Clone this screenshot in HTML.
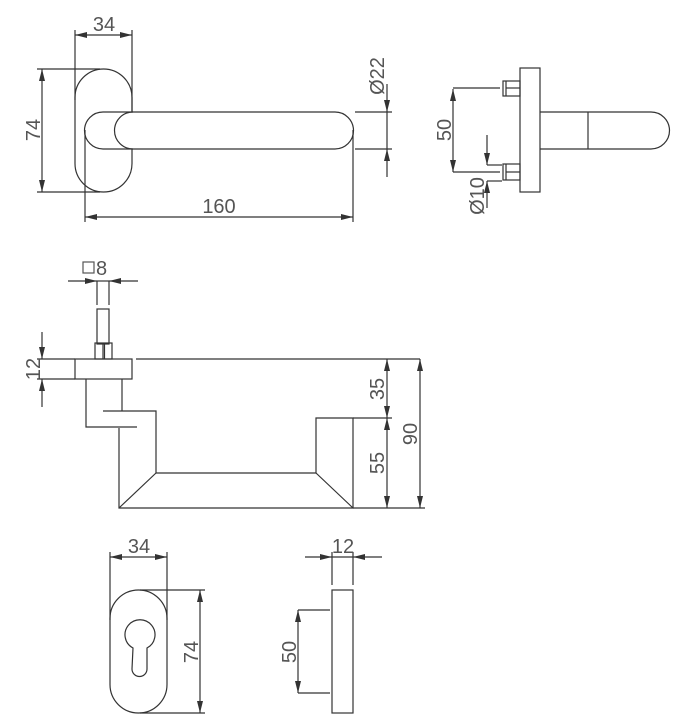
<!DOCTYPE html>
<html><head><meta charset="utf-8"><style>
html,body{margin:0;padding:0;background:#fff;}
svg{display:block}
text{font-family:"Liberation Sans",sans-serif;font-size:20px;fill:#555;}
</style></head><body>
<svg width="679" height="719" viewBox="0 0 679 719" xmlns="http://www.w3.org/2000/svg">
<defs>
<marker id="a" markerUnits="userSpaceOnUse" markerWidth="13" markerHeight="7" refX="12" refY="3.5" orient="auto-start-reverse">
<path d="M0,0.5 L12,3.5 L0,6.5 z" fill="#333"/></marker>
</defs>
<g fill="none" stroke="#333" stroke-width="1.2">
<!-- TOP VIEW -->
<rect x="75" y="69" width="57" height="123" rx="28.5" ry="28.5"/>
<path d="M103,112 L335,112 A18.5,18.5 0 0 1 335,149 L103,149 A18.5,18.5 0 0 1 103,112" fill="#fff"/>
<path d="M133,112 A18.5,18.5 0 0 0 133,149"/>
<line x1="85" y1="130" x2="85" y2="222"/>
<line x1="353" y1="130" x2="353" y2="222"/>
<line x1="75" y1="30" x2="75" y2="100"/>
<line x1="132" y1="30" x2="132" y2="112"/>
<line x1="75" y1="35" x2="132" y2="35" marker-start="url(#a)" marker-end="url(#a)"/>
<line x1="37" y1="69" x2="100" y2="69"/>
<line x1="37" y1="192" x2="100" y2="192"/>
<line x1="42" y1="69" x2="42" y2="192" marker-start="url(#a)" marker-end="url(#a)"/>
<line x1="85" y1="217" x2="353" y2="217" marker-start="url(#a)" marker-end="url(#a)"/>
<line x1="355" y1="112" x2="392" y2="112"/>
<line x1="355" y1="149" x2="392" y2="149"/>
<line x1="387" y1="84" x2="387" y2="112" marker-end="url(#a)"/>
<line x1="387" y1="177" x2="387" y2="149" marker-end="url(#a)"/>
<line x1="387" y1="112" x2="387" y2="149"/>
<!-- SIDE VIEW -->
<rect x="520" y="68" width="20" height="124"/>
<rect x="503" y="81" width="17" height="15"/>
<line x1="506" y1="81" x2="506" y2="96"/><line x1="506" y1="88" x2="520" y2="88"/>
<rect x="503" y="164" width="17" height="16"/>
<line x1="506" y1="164" x2="506" y2="180"/><line x1="506" y1="172" x2="520" y2="172"/>
<path d="M540,112 L651,112 A18.5,18.5 0 0 1 651,149 L540,149"/>
<line x1="588" y1="112" x2="588" y2="149"/>
<line x1="453" y1="88" x2="500" y2="88"/>
<line x1="453" y1="172" x2="500" y2="172"/>
<line x1="453" y1="89" x2="453" y2="172" marker-start="url(#a)" marker-end="url(#a)"/>
<line x1="487" y1="165" x2="502" y2="165"/>
<line x1="487" y1="181" x2="502" y2="181"/>
<line x1="487" y1="135" x2="487" y2="165" marker-end="url(#a)"/>
<line x1="487" y1="208" x2="487" y2="181" marker-end="url(#a)"/>
<!-- MIDDLE VIEW -->
<line x1="68" y1="281" x2="97" y2="281" marker-end="url(#a)"/>
<line x1="138" y1="281" x2="109" y2="281" marker-end="url(#a)"/>
<line x1="97" y1="281" x2="109" y2="281"/>
<line x1="97" y1="281" x2="97" y2="305"/>
<line x1="109" y1="281" x2="109" y2="305"/>
<rect x="97" y="309" width="12" height="35"/>
<rect x="95" y="343" width="17" height="16"/>
<line x1="103" y1="343" x2="103" y2="359"/><line x1="104.5" y1="343" x2="104.5" y2="359"/>
<rect x="75" y="359" width="57" height="20"/>
<line x1="136" y1="359" x2="420" y2="359"/>
<line x1="37" y1="359" x2="75" y2="359"/>
<line x1="37" y1="379" x2="75" y2="379"/>
<line x1="42" y1="332" x2="42" y2="359" marker-end="url(#a)"/>
<line x1="42" y1="407" x2="42" y2="379" marker-end="url(#a)"/>
<path d="M86,379 L86,427 L137,427"/>
<path d="M122,379 L122,411"/>
<path d="M103,411 L156,411 L156,473 L316,473 L316,418 L353,418 L353,508 L119,508 L119,428"/>
<line x1="119" y1="508" x2="156" y2="473"/>
<line x1="316" y1="473" x2="353" y2="508"/>
<line x1="353" y1="418" x2="392" y2="418"/>
<line x1="353" y1="508" x2="425" y2="508"/>
<line x1="387" y1="359" x2="387" y2="418" marker-start="url(#a)" marker-end="url(#a)"/>
<line x1="387" y1="418" x2="387" y2="508" marker-start="url(#a)" marker-end="url(#a)"/>
<line x1="420" y1="359" x2="420" y2="508" marker-start="url(#a)" marker-end="url(#a)"/>
<!-- BOTTOM LEFT -->
<rect x="110" y="590" width="57" height="123" rx="28.5" ry="28.5"/>
<path d="M133,648 A15,15 0 1 1 147,648 L147,669 A7.5,7.5 0 0 1 132,669 Z"/>
<line x1="110" y1="552" x2="110" y2="620"/>
<line x1="167" y1="552" x2="167" y2="620"/>
<line x1="110" y1="557" x2="167" y2="557" marker-start="url(#a)" marker-end="url(#a)"/>
<line x1="140" y1="590" x2="205" y2="590"/>
<line x1="140" y1="713" x2="205" y2="713"/>
<line x1="200" y1="590" x2="200" y2="713" marker-start="url(#a)" marker-end="url(#a)"/>
<!-- BOTTOM RIGHT -->
<rect x="332" y="590" width="21" height="123"/>
<line x1="332" y1="552" x2="332" y2="585"/>
<line x1="353" y1="552" x2="353" y2="585"/>
<line x1="305" y1="557" x2="332" y2="557" marker-end="url(#a)"/>
<line x1="382" y1="557" x2="353" y2="557" marker-end="url(#a)"/>
<line x1="332" y1="557" x2="353" y2="557"/>
<line x1="298" y1="610" x2="330" y2="610"/>
<line x1="298" y1="693" x2="330" y2="693"/>
<line x1="298" y1="610" x2="298" y2="693" marker-start="url(#a)" marker-end="url(#a)"/>
</g>
<rect x="83" y="262" width="11" height="11" fill="none" stroke="#555" stroke-width="1.2"/>
<text x="96" y="275">8</text>
<text x="104" y="31" text-anchor="middle">34</text>
<text x="219" y="213" text-anchor="middle">160</text>
<text x="139" y="553" text-anchor="middle">34</text>
<text x="343" y="553" text-anchor="middle">12</text>
<g text-anchor="middle">
<text transform="translate(40,130) rotate(-90)">74</text>
<text transform="translate(384,76) rotate(-90)">Ø22</text>
<text transform="translate(451,130) rotate(-90)">50</text>
<text transform="translate(484,196) rotate(-90)">Ø10</text>
<text transform="translate(40,369) rotate(-90)">12</text>
<text transform="translate(384,389) rotate(-90)">35</text>
<text transform="translate(384,463) rotate(-90)">55</text>
<text transform="translate(417,434) rotate(-90)">90</text>
<text transform="translate(198,652) rotate(-90)">74</text>
<text transform="translate(296,652) rotate(-90)">50</text>
</g>
</svg>
</body></html>
